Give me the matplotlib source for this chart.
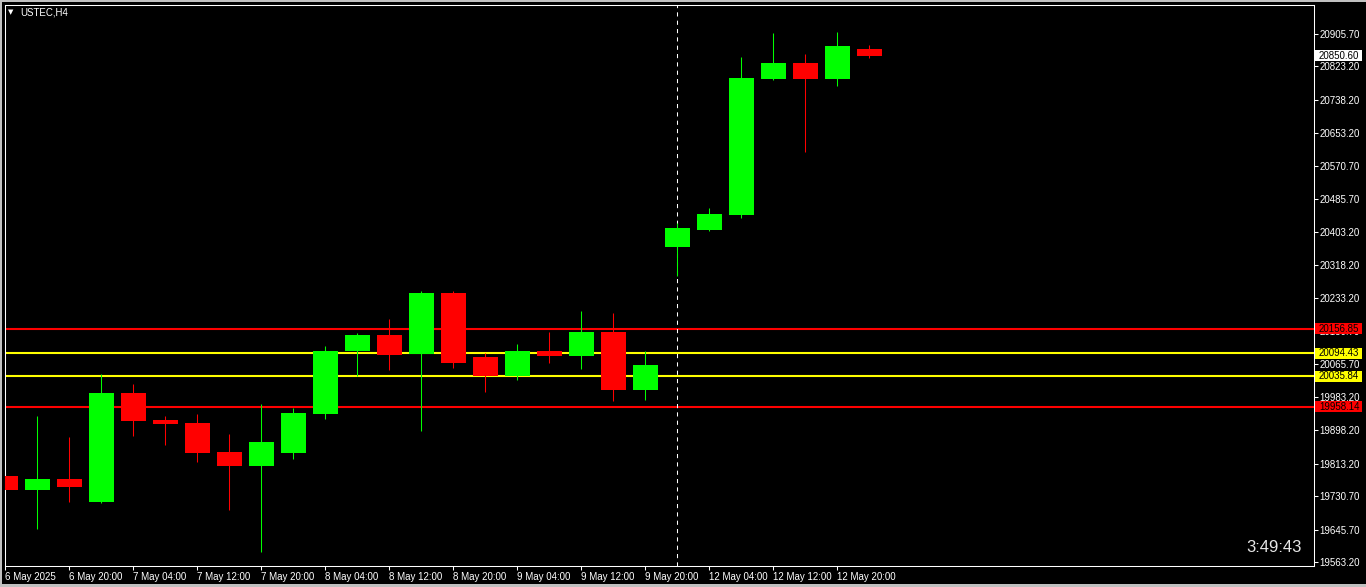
import matplotlib
matplotlib.use("Agg")
import matplotlib.pyplot as plt
from matplotlib.patches import Rectangle
from matplotlib.transforms import blended_transform_factory

# USTEC H4 candles, 6 May 12:00 .. 13 May 00:00
symbol = "USTEC,H4"
opens = [19782, 19747, 19774, 19717, 19993, 19924, 19917, 19843, 19808, 19841,
         19940, 20100, 20140, 20093, 20247, 20084, 20036, 20100, 20087, 20148,
         20000, 20364, 20407, 20446, 20791, 20832, 20791, 20868]
highs = [19817, 19934, 19881, 20041, 20016, 19934, 19940, 19889, 19965, 19955,
         20112, 20146, 20181, 20252, 20252, 20095, 20118, 20148, 20201, 20196,
         20100, 20425, 20463, 20847, 20908, 20855, 20911, 20878]
lows = [19711, 19648, 19717, 19714, 19884, 19861, 19818, 19696, 19589, 19826,
        19928, 20036, 20051, 19896, 20056, 19995, 20026, 20069, 20054, 19973,
        19975, 20290, 20405, 20438, 20789, 20606, 20774, 20845]
closes = [19747, 19774, 19755, 19993, 19922, 19915, 19841, 19808, 19868, 19942,
          20100, 20140, 20090, 20247, 20069, 20036, 20100, 20087, 20148, 20000,
          20064, 20412, 20448, 20794, 20832, 20791, 20875, 20851]

tick_labels = ["6 May 2025", "6 May 20:00", "7 May 04:00", "7 May 12:00", "7 May 20:00",
               "8 May 04:00", "8 May 12:00", "8 May 20:00", "9 May 04:00", "9 May 12:00",
               "9 May 20:00", "12 May 04:00", "12 May 12:00", "12 May 20:00"]
price_ticks = [20905.70, 20823.20, 20738.20, 20653.20, 20570.70, 20485.70, 20403.20,
               20318.20, 20233.20, 20150.70, 20065.70, 19983.20, 19898.20, 19813.20,
               19730.70, 19645.70, 19563.20]
levels = [20156.85, 20094.43, 20035.84, 19958.14]
level_colors = ["#ff0000", "#ffff00", "#ffff00", "#ff0000"]
last_price = 20850.60
week_break = 21
timer = "3:49:43"

plt.rcParams['font.family'] = ['Liberation Sans', 'DejaVu Sans']

W, H = 1366, 587
fig = plt.figure(figsize=(W / 100, H / 100), dpi=100, facecolor='black')
ax = fig.add_axes([4.5 / W, 1 - 565.5 / H, 1309 / W, 561 / H], facecolor='black')

for i in range(len(opens)):
    col = '#00ff00' if closes[i] >= opens[i] else '#ff0000'
    ax.vlines(i, lows[i], highs[i], color=col, lw=0.75, zorder=2)
    ax.bar(i, abs(closes[i] - opens[i]), bottom=min(opens[i], closes[i]),
           width=0.78, color=col, linewidth=0, zorder=3)

for lv, c in zip(levels, level_colors):
    ax.axhline(lv, color=c, lw=1.5, zorder=1)

ax.axvline(week_break, color='white', lw=0.75, ls=(0, (4, 4)), zorder=1)

ax.set_xlim(-0.031, 40.875)
ax.set_ylim(19554.3, 20980.7)

for s in ax.spines.values():
    s.set_color('white')
    s.set_linewidth(0.75)

ax.yaxis.tick_right()
ax.set_yticks(price_ticks)
ax.set_yticklabels([f"{v:.2f}" for v in price_ticks])
ax.tick_params(axis='y', colors='white', length=3, width=0.75, pad=1.5, labelsize=7)
ax.set_xticks(range(0, 2 * len(tick_labels), 2))
ax.set_xticklabels(tick_labels)
ax.tick_params(axis='x', colors='white', length=3, width=0.75, pad=2, labelsize=7)
for lab in ax.get_xticklabels():
    lab.set_ha('left')

# price labels on the right scale
tr = blended_transform_factory(ax.transAxes, ax.transData)
px = 1 / 1309
box_h = 11 * (20980.7 - 19554.3) / 561
def price_box(val, face):
    ax.add_patch(Rectangle((1 + 1.5 * px, val - box_h / 2), 47 * px, box_h, transform=tr,
                           facecolor=face, edgecolor='none', clip_on=False, zorder=5))
    ax.text(1 + 5.5 * px, val, f"{val:.2f}", transform=tr, color='black', fontsize=7,
            va='center', ha='left', clip_on=False, zorder=6)

for lv, c in zip(levels, level_colors):
    price_box(lv, c)
price_box(last_price, 'white')

fig.text(1302 / W, 1 - 552.5 / H, timer, ha='right', va='baseline', fontsize=12, color='#e6e6e6')
fig.text(8 / W, 1 - 12.5 / H, "\u25bc", fontsize=5, color='white', va='center', family='DejaVu Sans')
fig.text(20 / W, 1 - 12.5 / H, symbol, fontsize=7, color='white', va='center')

# grey window frame
for r in [(0, 1 - 2 / H, 1, 2 / H), (0, 0, 2 / W, 1), (0, 0, 1, 3 / H)]:
    fig.patches.append(Rectangle(r[:2], r[2], r[3], transform=fig.transFigure,
                                 facecolor='#c0c0c0', edgecolor='none'))

fig.savefig('out.png', dpi=100, facecolor='black')
